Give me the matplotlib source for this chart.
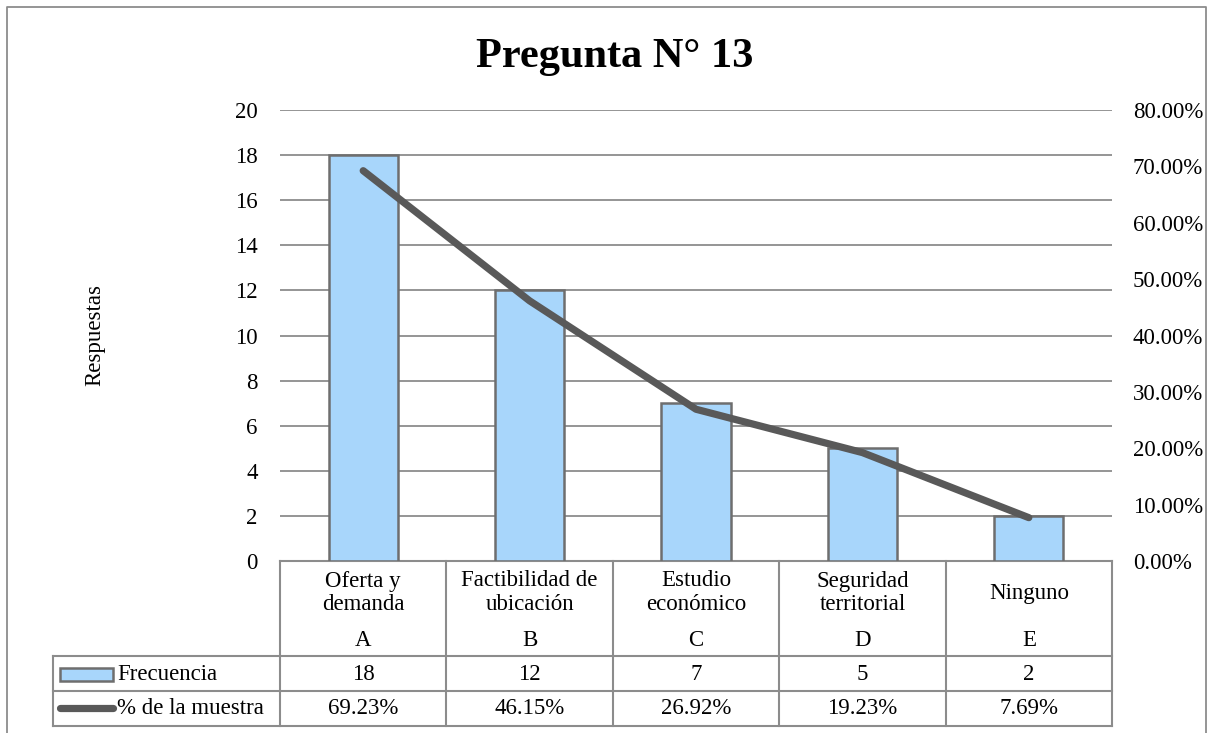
import matplotlib
matplotlib.use("Agg")
import matplotlib.pyplot as plt
from matplotlib.transforms import blended_transform_factory
from matplotlib.patches import Rectangle

plt.rcParams['font.family'] = ['Liberation Serif', 'DejaVu Serif']

title = "Pregunta N° 13"
categories = ["Oferta y\ndemanda", "Factibilidad de\nubicación", "Estudio\neconómico",
              "Seguridad\nterritorial", "Ninguno"]
letters = ["A", "B", "C", "D", "E"]
frecuencia = [18, 12, 7, 5, 2]
porcentaje = [69.23, 46.15, 26.92, 19.23, 7.69]
pct_labels = ["69.23%", "46.15%", "26.92%", "19.23%", "7.69%"]
series_names = ["Frecuencia", "% de la muestra"]
y_label = "Respuestas"

W, H = 1214, 733
FS = 16.5
fig = plt.figure(figsize=(W / 100, H / 100), dpi=100)

# overlay in pixel coordinates
ov = fig.add_axes([0, 0, 1, 1])
ov.set_xlim(0, W)
ov.set_ylim(H, 0)
ov.axis('off')

x0, x1 = 280, 1112
ytop, ybot = 110, 561
ax = fig.add_axes([x0 / W, (H - ybot) / H, (x1 - x0) / W, (ybot - ytop) / H])
ax.set_zorder(2)
ax.patch.set_alpha(0)
n = len(categories)
xs = list(range(n))
ax.set_xlim(-0.5, n - 0.5)
ax.set_ylim(0, 20)
ax.set_yticks(range(0, 21, 2))
ax.grid(axis='y', color='#8c8c8c', linewidth=1.3)
ax.set_axisbelow(True)
for s in ax.spines.values():
    s.set_visible(False)
ax.tick_params(axis='y', length=0, labelsize=FS, pad=16)
ax.tick_params(axis='x', length=0, labelbottom=False)
ax.bar(xs, frecuencia, width=0.415, color='#a8d6fb', edgecolor='#6e6e6e', linewidth=1.8, zorder=2)

ax2 = ax.twinx()
ax2.set_ylim(0, 80)
ax2.set_yticks(range(0, 81, 10))
ax2.set_yticklabels([f"{v:.2f}%" for v in range(0, 81, 10)])
for s in ax2.spines.values():
    s.set_visible(False)
ax2.tick_params(axis='y', length=0, labelsize=FS, pad=15)
ax2.plot(xs, porcentaje, color='#595959', linewidth=5.2, solid_capstyle='round', zorder=3)

fig.text(95 / W, 1 - 335 / H, y_label, rotation=90, ha='center', va='center', fontsize=FS)
ov.text(615, 67, title, ha='center', va='baseline', fontsize=30.5, fontweight='bold')

# table
tr = blended_transform_factory(ax.transData, ov.transData)
lc = '#8c8c8c'
r0, r1, r2, r3 = 561, 656, 691, 726
xl = 53
for i in range(n + 1):
    ov.plot([i - 0.5, i - 0.5], [r0, r3], color=lc, lw=1.5, transform=tr)
ov.plot([xl, xl], [r1, r3], color=lc, lw=1.5)
ov.plot([x0, x1], [r0, r0], color=lc, lw=1.5)
for r in (r1, r2, r3):
    ov.plot([xl, x1], [r, r], color=lc, lw=1.5)
for i in range(n):
    parts = categories[i].split("\n")
    if len(parts) == 2:
        ov.text(i, 581, parts[0], ha='center', va='center', fontsize=FS, transform=tr)
        ov.text(i, 605, parts[1], ha='center', va='center', fontsize=FS, transform=tr)
    else:
        ov.text(i, 593, parts[0], ha='center', va='center', fontsize=FS, transform=tr)
    ov.text(i, 640, letters[i], ha='center', va='center', fontsize=FS, transform=tr)
    ov.text(i, 674, str(frecuencia[i]), ha='center', va='center', fontsize=FS, transform=tr)
    ov.text(i, 709, pct_labels[i], ha='center', va='center', fontsize=FS, transform=tr)
ov.add_patch(Rectangle((60, 668), 53, 13, facecolor='#a8d6fb', edgecolor='#6e6e6e', lw=1.8))
ov.plot([60, 113], [708, 708], color='#595959', lw=5.2, solid_capstyle='round')
ov.text(117, 674, series_names[0], ha='left', va='center', fontsize=FS)
ov.text(117, 709, series_names[1], ha='left', va='center', fontsize=FS)

# outer frame
ov.plot([7, 7, 1206, 1206], [740, 7, 7, 740], color='#8c8c8c', lw=1.3)

fig.savefig("out.png", dpi=100)
